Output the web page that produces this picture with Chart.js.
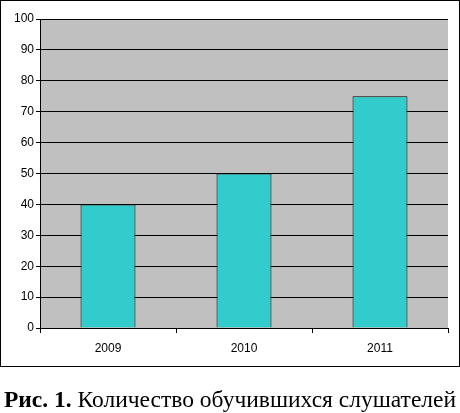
<!DOCTYPE html>
<html>
<head>
<meta charset="utf-8">
<script src="https://cdn.jsdelivr.net/npm/chart.js@4/dist/chart.umd.min.js"></script>
<style>
body { margin: 0; background: #fff; }
</style>
</head>
<body>
<canvas id="myChart" width="460" height="413"></canvas>
<script>
//chart data
var years = ["2009", "2010", "2011"];
var listeners = [40, 50, 75];
var yTicks = [0, 10, 20, 30, 40, 50, 60, 70, 80, 90, 100];
var captionBold = "Рис. 1.";
var captionText = " Количество обучившихся слушателей";

//gray plot background, outer frame and caption
var decor = {
    id: 'decor',
    beforeDraw: function (chart) {
        var a = chart.chartArea;
        var c = chart.ctx;
        c.save();
        c.fillStyle = "#c0c0c0";
        c.fillRect(a.left, a.top, a.right - a.left, a.bottom - a.top);
        c.strokeStyle = "#000";
        c.lineWidth = 1;
        c.strokeRect(0.5, 0.5, 459, 366);
        c.fillStyle = "#000";
        c.textBaseline = "alphabetic";
        c.font = "bold 23.5px 'Liberation Serif'";
        var w1 = c.measureText(captionBold).width;
        c.font = "23.5px 'Liberation Serif'";
        var w2 = c.measureText(captionText).width;
        var x = (460 - w1 - w2) / 2;
        c.font = "bold 23.5px 'Liberation Serif'";
        c.fillText(captionBold, x, 407);
        c.font = "23.5px 'Liberation Serif'";
        c.fillText(captionText, x + w1, 407);
        c.restore();
    }
};

var ctx = document.getElementById("myChart").getContext("2d");
new Chart(ctx, {
    type: 'bar',
    data: {
        labels: years,
        datasets: [{
            data: listeners,
            backgroundColor: "#33cccc",
            borderColor: "#000",
            borderWidth: 1,
            categoryPercentage: 1,
            barPercentage: 0.404
        }]
    },
    options: {
        responsive: false,
        animation: false,
        events: [],
        layout: { padding: { top: 19, right: 12, left: 0, bottom: 47 } },
        plugins: { legend: { display: false }, tooltip: { enabled: false } },
        scales: {
            x: {
                grid: { drawOnChartArea: false, color: "#000", tickLength: 5, offset: true },
                border: { color: "#000" },
                ticks: { color: "#000", padding: 8, font: { family: "Liberation Sans", size: 12 } },
                afterFit: function (s) { s.height = 38; }
            },
            y: {
                min: yTicks[0],
                max: yTicks[yTicks.length - 1],
                ticks: { stepSize: 10, color: "#000", padding: 2, font: { family: "Liberation Sans", size: 12 } },
                grid: { color: "#000", tickLength: 4 },
                border: { color: "#000" },
                afterFit: function (s) { s.width = 40; }
            }
        }
    },
    plugins: [decor]
});
</script>
</body>
</html>
